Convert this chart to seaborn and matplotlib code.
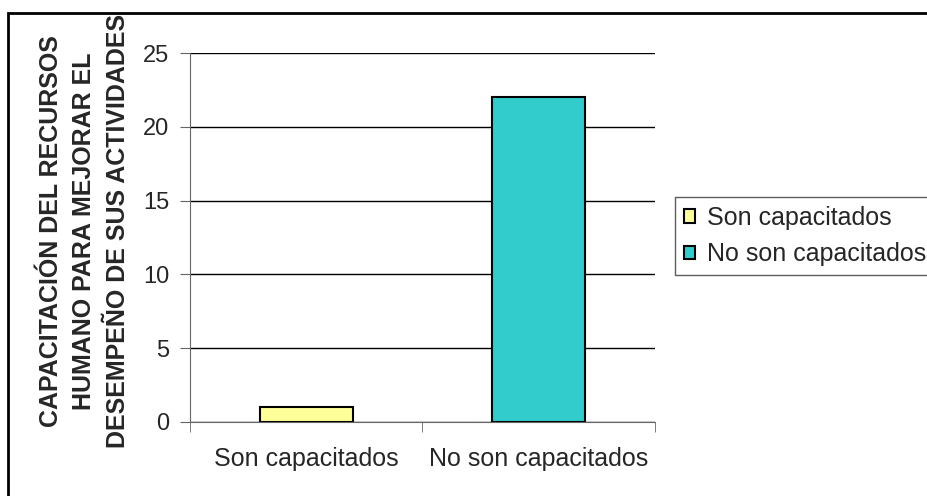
import matplotlib
matplotlib.use("Agg")
import matplotlib.pyplot as plt
import seaborn as sns
import pandas as pd
from matplotlib.patches import Rectangle

categorias = ["Son capacitados", "No son capacitados"]
valores = [1, 22]
colores = ["#FFFF99", "#33CCCC"]
ylabel = "CAPACITACIÓN DEL RECURSOS\nHUMANO PARA MEJORAR EL\nDESEMPEÑO DE SUS ACTIVIDADES"

sns.set_style("white")
plt.rcParams['font.family'] = ['Liberation Sans', 'DejaVu Sans']

df = pd.DataFrame({"cat": categorias, "val": valores})

fig = plt.figure(figsize=(9.28, 4.96), dpi=100)
ax = fig.add_axes([0.2047, 0.1492, 0.5011, 0.7439])

sns.barplot(data=df, x="cat", y="val", hue="cat", palette=colores, saturation=1,
            width=0.4, edgecolor="black", linewidth=1.5, ax=ax, legend=True)

ax.set_ylim(0, 25)
ax.set_xlim(-0.5, 1.5)
ax.set_yticks([0, 5, 10, 15, 20, 25])
ax.yaxis.grid(True, color="black", linewidth=1)
ax.set_axisbelow(True)
for s in ["top", "right"]:
    ax.spines[s].set_visible(False)
ax.spines["left"].set_color("#666666")
ax.spines["bottom"].set_color("#666666")
ax.tick_params(axis="y", which="major", direction="out", length=7, left=True,
               color="#666666", labelsize=17, pad=8)
ax.tick_params(axis="x", which="major", length=0, labelsize=18, pad=18)
ax.set_xticks([-0.5, 0.5, 1.5], minor=True)
ax.tick_params(axis="x", which="minor", direction="out", length=7, bottom=True,
               color="#666666")
ax.set_xlabel("")
ax.set_ylabel(ylabel, fontsize=18, fontweight="bold", linespacing=1.5)
ax.yaxis.set_label_coords(-0.13, 0.518)

handles, labels = ax.get_legend_handles_labels()
leg = ax.legend(handles, labels, loc="center left", bbox_to_anchor=(1.043, 0.504),
                fontsize=18, frameon=True, fancybox=False, edgecolor="#333333",
                handlelength=0.45, handleheight=0.45, handletextpad=0.48,
                borderpad=0.35, labelspacing=0.5, borderaxespad=0)
leg.get_frame().set_linewidth(1)

fig.patches.append(Rectangle((8 / 928, -0.1), 1.2, 1 - 13 / 496 + 0.1,
                             transform=fig.transFigure, fill=False,
                             edgecolor="black", linewidth=2, zorder=10))

fig.savefig("out.png", dpi=100)
